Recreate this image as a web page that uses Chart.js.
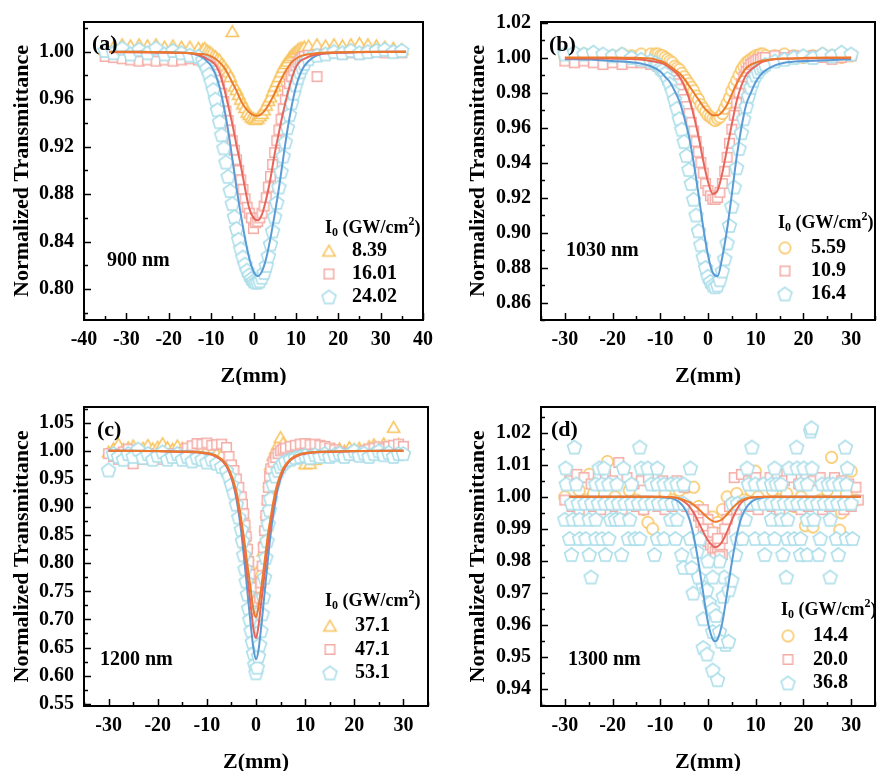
<!DOCTYPE html>
<html>
<head>
<meta charset="utf-8">
<script src="https://cdn.jsdelivr.net/npm/chart.js@4.4.1/dist/chart.umd.min.js"></script>
<style>
  body { margin: 0; background: #fff; overflow: hidden; }
  #wrap { position: relative; width: 882px; height: 771px; }
  canvas { position: absolute; }
</style>
</head>
<body>
<div id="wrap">
  <canvas id="pa" width="441" height="385" style="left:0;top:0"></canvas>
  <canvas id="pb" width="441" height="385" style="left:441px;top:0"></canvas>
  <canvas id="pc" width="441" height="386" style="left:0;top:385px"></canvas>
  <canvas id="pd" width="441" height="386" style="left:441px;top:385px"></canvas>
</div>
<script>
// ---------- (a) 900 nm ----------
const labelsA = ['8.39', '16.01', '24.02'];
const zA = [-35,-33,-31,-29,-27,-25,-23,-21,-19,-17,-15,-13,
  -12,-11.5,-11,-10.5,-10,-9.5,-9,-8.5,-8,-7.5,-7,-6.5,-6,-5.5,-5,-4.5,-4,-3.5,-3,-2.5,-2,-1.5,-1,-0.5,
  0,0.5,1,1.5,2,2.5,3,3.5,4,4.5,5,5.5,6,6.5,7,7.5,8,8.5,9,9.5,10,10.5,11,11.5,12,
  13,15,17,19,21,23,25,27,29,31,33,35];
const tA1 = [1.002,1.004,1.006,1.005,1.006,1.005,1.006,1.004,1.005,1.004,1.004,1.003,
  1.002,1.003,1.001,1.000,0.999,0.997,0.996,0.994,0.993,0.990,0.988,0.985,0.983,0.979,1.017,0.971,0.968,0.964,0.960,0.956,0.953,0.949,0.947,0.945,
  0.944,0.943,0.944,0.946,0.948,0.951,0.955,0.959,0.962,0.967,0.971,0.975,0.979,0.983,0.987,0.990,0.992,0.995,0.997,0.999,1.000,1.002,1.003,1.003,1.004,
  1.005,1.006,1.005,1.006,1.005,1.006,1.007,1.006,1.005,1.004,1.003,1.002];
const tA2 = [0.996,0.995,0.994,0.993,0.992,0.993,0.992,0.993,0.992,0.993,0.994,0.993,
  0.993,0.992,0.991,0.989,0.987,0.984,0.981,0.976,0.971,0.965,0.958,0.950,0.942,0.934,0.925,0.917,0.909,0.900,0.892,0.884,0.876,0.869,0.864,0.860,
  0.851,0.856,0.857,0.860,0.864,0.870,0.877,0.886,0.895,0.905,0.915,0.925,0.934,0.943,0.952,0.960,0.967,0.973,0.979,0.984,0.988,0.991,0.993,0.995,0.996,
  0.997,0.979,0.998,0.999,0.998,0.999,0.998,0.999,1.000,0.999,1.000,0.999];
const tA3 = [1.001,0.999,1.003,0.998,1.002,0.999,1.003,0.998,1.001,0.999,0.997,0.996,
  0.993,0.990,0.986,0.981,0.975,0.968,0.960,0.951,0.941,0.930,0.919,0.907,0.895,0.883,0.872,0.861,0.851,0.842,0.834,0.827,0.821,0.816,0.812,0.809,
  0.807,0.806,0.806,0.807,0.810,0.814,0.820,0.828,0.838,0.849,0.861,0.873,0.886,0.899,0.912,0.924,0.936,0.947,0.957,0.965,0.972,0.978,0.983,0.987,0.990,
  0.994,0.997,0.998,1.000,0.999,1.001,0.999,1.000,1.001,1.002,1.000,1.001];
const fitZA = [-34,-30,-25,-20,-16,-14,-12,-11,-10,-9,-8,-7,-6,-5,-4,-3,-2,-1,0,1,2,3,4,5,6,7,8,9,10,11,12,14,16,20,25,30,36];
const fitA1 = [1.000,1.000,0.9998,0.9995,0.999,0.9985,0.998,0.9975,0.996,0.994,0.991,0.987,0.981,0.974,0.967,0.959,0.953,0.949,0.9465,0.946,0.948,0.952,0.958,0.965,0.973,0.980,0.986,0.991,0.994,0.996,0.9972,0.9983,0.999,0.9995,0.9998,1.000,1.000];
const fitA2 = [0.9995,0.9995,0.9993,0.999,0.9988,0.998,0.996,0.994,0.992,0.989,0.982,0.970,0.955,0.939,0.921,0.904,0.885,0.868,0.860,0.858,0.863,0.876,0.893,0.914,0.932,0.949,0.964,0.977,0.987,0.992,0.994,0.997,0.998,0.999,0.9995,0.9997,1.000];
const fitA3 = [1.000,1.000,0.9998,0.9995,0.999,0.998,0.995,0.992,0.988,0.981,0.970,0.954,0.934,0.910,0.885,0.863,0.843,0.826,0.815,0.811,0.815,0.826,0.843,0.863,0.885,0.910,0.934,0.954,0.970,0.981,0.988,0.995,0.998,0.9993,0.9997,1.000,1.000];

// ---------- (b) 1030 nm ----------
const labelsB = ['5.59', '10.9', '16.4'];
const zB = [-30,-28,-26,-24,-22,-20,-18,-16,-14,-12,
  -11,-10.5,-10,-9.5,-9,-8.5,-8,-7.5,-7,-6.5,-6,-5.5,-5,-4.5,-4,-3.5,-3,-2.5,-2,-1.5,-1,-0.5,
  0,0.5,1,1.5,2,2.5,3,3.5,4,4.5,5,5.5,6,6.5,7,7.5,8,8.5,9,9.5,10,10.5,11,11.5,12,
  14,16,18,20,22,24,26,28,30];
const tB1 = [1.001,1.000,1.002,1.001,1.000,1.001,1.002,1.001,1.002,1.002,
  1.002,1.002,1.001,1.001,1.000,0.999,0.998,0.997,0.995,0.994,0.993,0.991,0.989,0.987,0.985,0.983,0.981,0.978,0.976,0.973,0.971,0.969,
  0.967,0.966,0.965,0.964,0.965,0.966,0.968,0.971,0.974,0.977,0.981,0.984,0.987,0.990,0.993,0.995,0.997,0.998,0.999,1.000,1.001,1.001,1.002,1.002,1.001,
  1.001,1.002,1.001,1.000,1.001,1.002,1.001,1.000,1.001];
const tB2 = [0.998,0.997,0.998,0.997,0.996,0.997,0.996,0.997,0.997,0.996,
  0.996,0.995,0.995,0.994,0.993,0.992,0.991,0.989,0.987,0.985,0.982,0.979,0.976,0.972,0.968,0.963,0.958,0.952,0.946,0.940,0.934,0.928,
  0.924,0.921,0.919,0.919,0.920,0.923,0.928,0.935,0.943,0.951,0.959,0.967,0.974,0.980,0.985,0.989,0.992,0.994,0.996,0.997,0.998,0.999,0.999,1.000,1.000,
  1.001,1.000,1.001,1.000,1.001,1.000,0.999,1.000,1.001];
const tB3 = [1.002,1.003,1.002,1.003,1.002,1.001,1.002,1.000,0.999,0.998,
  0.997,0.996,0.994,0.993,0.991,0.988,0.985,0.981,0.976,0.971,0.965,0.959,0.952,0.944,0.936,0.928,0.919,0.910,0.901,0.893,0.886,0.880,
  0.875,0.872,0.870,0.869,0.870,0.873,0.878,0.885,0.894,0.904,0.915,0.926,0.937,0.948,0.957,0.965,0.972,0.978,0.983,0.987,0.990,0.992,0.994,0.995,0.996,
  0.998,0.999,1.000,1.001,1.000,1.002,1.001,1.003,1.002];
const fitZB = [-30,-25,-20,-15,-12,-10,-9,-8,-7,-6,-5,-4,-3,-2,-1,0,1,2,3,4,5,6,7,8,9,10,11,12,14,16,20,25,30];
const fitB1 = [1.000,1.000,1.000,0.9998,0.9995,0.998,0.9968,0.995,0.993,0.991,0.988,0.984,0.980,0.976,0.972,0.969,0.967,0.967,0.969,0.973,0.979,0.985,0.990,0.994,0.996,0.997,0.998,0.9985,0.9992,0.9995,0.9998,1.000,1.000];
const fitB2 = [0.9995,0.9995,0.9993,0.999,0.998,0.997,0.996,0.994,0.992,0.989,0.984,0.977,0.967,0.955,0.941,0.929,0.922,0.924,0.934,0.948,0.962,0.975,0.984,0.990,0.993,0.995,0.997,0.998,0.999,0.9993,0.9995,0.9997,0.9998];
const fitB3 = [0.999,0.9988,0.998,0.997,0.995,0.992,0.989,0.986,0.981,0.975,0.966,0.955,0.940,0.922,0.903,0.887,0.877,0.875,0.886,0.902,0.922,0.943,0.960,0.973,0.980,0.986,0.990,0.9925,0.9955,0.997,0.998,0.9985,0.999];

// ---------- (c) 1200 nm ----------
const labelsC = ['37.1', '47.1', '53.1'];
const zC = [-30,-29,-28,-27,-26,-25,-24,-23,-22,-21,-20,-19,-18,-17,-16,-15,-14,-13,-12,-11,-10,-9,-8,-7,-6,
  -5.5,-5,-4.5,-4,-3.5,
  -3,-2.75,-2.5,-2.25,-2,-1.75,-1.5,-1.25,-1,-0.75,-0.5,-0.25,0,0.25,0.5,0.75,1,1.25,1.5,1.75,2,2.25,2.5,2.75,3,
  3.5,4,4.5,5,5.5,
  6,7,8,9,10,11,12,13,14,15,16,17,18,19,20,21,22,23,24,25,26,27,28,29,30];
const tC1 = [0.998,1.004,1.012,1.003,1.006,1.009,1.002,1.005,1.010,1.004,1.007,1.013,1.006,1.003,1.009,1.005,1.002,1.007,1.004,1.001,1.003,0.999,0.996,0.993,0.985,
  0.978,0.968,0.957,0.944,0.925,
  0.905,0.889,0.872,0.853,0.836,0.815,0.798,0.782,0.770,0.758,0.748,0.740,0.736,0.745,0.757,0.771,0.785,0.800,0.822,0.843,0.866,0.890,0.915,0.945,0.975,
  0.992,1.003,1.012,1.024,1.014,
  1.005,1.001,0.998,0.996,0.977,0.978,0.985,0.990,0.995,0.999,1.002,1.004,1.000,1.006,1.003,1.005,1.002,1.008,1.011,1.006,1.013,1.008,1.042,1.012,1.005];
const tC2 = [0.995,0.990,0.985,0.998,1.003,0.977,0.990,0.985,0.995,0.988,0.992,0.985,0.990,0.995,0.988,0.997,1.005,1.009,1.013,1.012,1.014,1.010,1.011,1.012,1.006,
  0.990,0.975,0.965,0.950,0.935,
  0.918,0.905,0.888,0.868,0.848,0.825,0.803,0.780,0.757,0.732,0.710,0.690,0.675,0.690,0.712,0.738,0.765,0.795,0.828,0.858,0.885,0.912,0.935,0.955,0.968,
  0.980,0.988,0.995,1.000,1.003,
  1.005,1.008,1.010,1.012,1.013,1.011,1.012,1.010,1.008,1.005,1.002,0.998,0.995,0.992,0.995,0.998,1.000,1.003,1.005,1.007,1.004,1.008,1.010,1.012,1.008];
const tC3 = [0.966,0.995,0.990,0.985,0.995,0.990,1.003,0.988,0.995,0.985,0.992,0.998,0.985,0.990,0.995,0.985,0.990,0.982,0.988,0.985,0.980,0.985,0.978,0.972,0.965,
  0.955,0.940,0.925,0.905,0.882,
  0.860,0.840,0.815,0.790,0.768,0.745,0.720,0.700,0.680,0.660,0.640,0.620,0.605,0.615,0.635,0.655,0.680,0.710,0.740,0.775,0.810,0.840,0.870,0.895,0.915,
  0.940,0.955,0.965,0.972,0.978,
  0.982,0.985,0.988,0.990,0.992,0.988,0.993,0.990,0.995,0.990,0.993,0.996,0.990,0.995,1.000,0.992,0.996,0.990,0.995,1.000,0.993,0.997,0.990,0.995,0.995];
const fitZC = [-30,-25,-20,-15,-12,-10,-9,-8,-7,-6,-5.5,-5,-4.5,-4,-3.5,-3,-2.5,-2,-1.5,-1,-0.5,0,0.5,1,1.5,2,2.5,3,3.5,4,4.5,5,5.5,6,7,8,9,10,12,15,20,25,30];
const fitC1 = [1.000,1.000,0.9995,0.999,0.998,0.996,0.994,0.991,0.985,0.975,0.967,0.957,0.944,0.928,0.905,0.878,0.848,0.815,0.781,0.748,0.716,0.704,0.722,0.752,0.786,0.822,0.856,0.882,0.908,0.930,0.946,0.958,0.968,0.975,0.985,0.991,0.994,0.996,0.998,0.999,0.9995,1.000,1.000];
const fitC2 = [1.000,0.9998,0.9993,0.998,0.997,0.995,0.993,0.989,0.983,0.972,0.963,0.952,0.938,0.920,0.896,0.866,0.832,0.795,0.757,0.719,0.682,0.667,0.688,0.725,0.763,0.801,0.838,0.870,0.899,0.922,0.940,0.953,0.964,0.972,0.983,0.989,0.993,0.995,0.997,0.998,0.9993,0.9998,1.000];
const fitC3 = [1.000,1.000,0.9995,0.999,0.998,0.996,0.994,0.990,0.984,0.973,0.964,0.952,0.936,0.915,0.888,0.855,0.815,0.772,0.727,0.684,0.647,0.629,0.645,0.682,0.725,0.770,0.813,0.853,0.886,0.913,0.935,0.951,0.963,0.972,0.984,0.990,0.994,0.996,0.998,0.999,0.9995,1.000,1.000];

// ---------- (d) 1300 nm ----------
const labelsD = ['14.4', '20.0', '36.8'];
const zD1 = [-30,-28.5,-27,-25.5,-24.9,-24,-22.5,-21.1,-19.5,-18,-16.5,-15,-13.5,-12.6,-11.6,-10.5,-9,-7.5,-6,-4.5,
  -3,-2,-1,0,1,2,3,4,5,6,7.5,9,9.9,10.5,12,13.5,15,16.5,18,19.5,20.4,22,23.5,25,25.9,27.6,28,29,30,31];
const tD1 = [1.000,0.998,1.002,0.999,1.007,1.001,0.997,1.011,1.000,0.998,1.002,0.999,0.996,0.992,0.990,0.998,1.001,0.999,1.002,1.003,
  1.003,0.997,0.994,0.9937,0.9937,0.992,0.996,1.000,0.998,1.001,0.999,1.002,1.008,1.000,0.998,1.002,0.999,1.001,0.997,1.000,0.991,0.9906,0.999,1.002,1.0123,0.9896,0.995,1.001,1.008,0.999];
const zD2 = [-29,-27.5,-26,-24.5,-23,-21.5,-20,-18.7,-17,-15.5,-14,-12.5,-11,-9.5,-8,-6.5,-5,
  5.5,7,8.5,10,11.5,13,14.5,16,17.5,19,20.5,22,23.5,25,26.5,28,29.5,31,
  -30,-28.5,-27,-25.5,-24,-22.5,-21,-19.5,-18,-16.5,-15,-13.5,-12,-10.5,-9,-7.5,-6,-4.5,-3,
  4.5,6,7.5,9,10.5,12,13.5,15,16.5,18,19.5,21,22.5,24,25.5,27,28.5,30,31.5,
  -2,-1.5,-1,-0.5,0,0.5,1,1.5,2,2.5,3,3.5,4,-1,0,1,2,3,1.5,2.5];
const tD2 = [1.005,1.007,1.006,1.004,1.006,1.007,1.005,1.0107,1.006,1.004,1.005,1.006,1.004,1.005,1.004,1.005,1.003,
  1.006,1.007,1.005,1.006,1.004,1.006,1.007,1.005,1.006,1.004,1.007,1.005,1.006,1.004,1.006,1.005,1.004,1.003,
  0.999,0.997,0.996,0.998,0.997,0.996,0.998,0.997,0.996,0.998,0.997,0.996,0.998,0.997,0.996,0.997,0.998,0.997,0.996,
  0.997,0.996,0.998,0.997,0.996,0.998,0.997,0.996,0.998,0.997,0.996,0.997,0.998,0.996,0.997,0.998,0.996,0.997,0.999,
  0.994,0.992,0.990,0.988,0.986,0.985,0.984,0.983,0.984,0.985,0.987,0.990,0.993,0.996,0.993,0.989,0.987,0.982,0.981,0.9815];
// 36.8: the points sit on a few transmittance levels, listed level by level
const tD3levels = [1.0155, 1.009, 1.004, 0.998, 0.993, 0.987, 0.982, 0.975];
const zD3levels = [
  [-28,-14.3,9.2,18.6,28.8],
  [-29.8,-22.8,-21.8,-17.7,-14.0,-12.6,-10.6,-3.7,8.2,14.0,17.0,18.7,20.1,21.8,29.2],
  [-29.7,-27.6,-23.5,-22.2,-20.8,-19.1,-16.0,-11.9,-10.6,-9.2,-7.8,-6.5,-5.1,8.5,9.9,11.6,13.3,14.3,15.3,19.4,20.8,23.9,25.2,26.2,27.6,29.0],
  [-28.6,-27.2,-25.8,-24.4,-23,-21.6,-20.2,-18.8,-17.4,-16,-14.6,-13.2,-11.8,-10.4,-9,-7.6,-6.2,-5.1,
    5.1,6.2,7.6,9,10.4,11.8,13.2,14.6,16,17.4,18.8,20.2,21.6,23,24.4,25.8,27.2,28.6,30],
  [-30,-28.3,-26.9,-24.9,-23.5,-20.4,-19.4,-18.4,-16.4,-7.8,-6.5,7.8,13.3,15.3,16.7,20.8,22.2,25.6],
  [-29,-26.9,-25.6,-23.5,-22.2,-20.8,-16.7,-15.3,-14.3,-10.6,-9.2,-6.8,-3.7,-1.7,6.1,7.2,9.9,11.9,14.0,16.7,18.1,19.4,23.5,26.9,29.0,30.3],
  [-28.6,-24.9,-21.5,-18.1,-11.2,-5.5,5.8,11.9,15.7,19.4,20.8,23.2,27.3],
  [-24.5,3.4,16.4,25.6]
];
const zD3extra = [21.5,21.7,-5.1,-3.4,-3.1,-1.0,-0.3,0.3,1.0,1.7,-1.0,-1.0,-0.2,1.0,2.0,1.0,2.4,3.7,2.7,4.3,3.2,4.4,5.0,2.4,1.0,-2.3,-2.0,0];
const tD3extra = [1.0205,1.0215,0.978,0.978,0.970,0.972,0.971,0.967,0.965,0.963,0.962,0.953,0.951,0.946,0.943,0.958,0.958,0.954,0.955,0.955,0.969,0.971,0.974,0.980,0.975,0.983,0.975,0.980];
const fitZD = [-29,-20,-12,-10,-8,-7,-6,-5,-4,-3,-2,-1,0,1,1.5,2,3,4,5,6,7,8,9,10,12,15,20,25,32];
const fitD1 = [1.000,1.000,1.000,1.000,0.9999,0.9998,0.9995,0.999,0.9984,0.9975,0.9962,0.9948,0.9934,0.9924,0.9922,0.9923,0.993,0.9945,0.9963,0.9978,0.9989,0.9995,0.9998,0.9999,1.000,1.000,1.000,1.000,1.000];
const fitD2 = [1.000,1.000,1.000,1.000,0.9999,0.9998,0.9994,0.9985,0.9972,0.995,0.9922,0.9891,0.9864,0.9847,0.9843,0.9845,0.9861,0.9891,0.9927,0.996,0.9982,0.9993,0.9998,0.9999,1.000,1.000,1.000,1.000,1.000];
const fitD3 = [1.000,1.000,1.000,0.9999,0.9996,0.9992,0.9983,0.9966,0.9935,0.9878,0.9796,0.970,0.9608,0.9556,0.955,0.9556,0.9608,0.970,0.9796,0.9878,0.9935,0.9966,0.9983,0.9992,0.9999,1.000,1.000,1.000,1.000];

// ---------- styles ----------
const serif = '"Liberation Serif", "Times New Roman", serif';
const colMk = ['#F8C35C', '#F4ACA6', '#A8DDE9'];
const colLn = ['#EC7A2C', '#E8655C', '#5B9BD5'];

Chart.defaults.font.family = serif;
Chart.defaults.font.weight = 'bold';
Chart.defaults.color = '#000';

function marker(shape, color) {
  const c = document.createElement('canvas');
  c.width = 17; c.height = 17;
  const g = c.getContext('2d');
  g.translate(8.5, 8.5);
  g.beginPath();
  if (shape === 'circle') {
    g.arc(0, 0, 5.7, 0, Math.PI * 2);
  } else if (shape === 'rect') {
    g.rect(-4.8, -4.8, 9.6, 9.6);
  } else {
    const n = shape === 'triangle' ? 3 : 5;
    const r = shape === 'triangle' ? 7.2 : 7.3;
    const dy = shape === 'triangle' ? 1.5 : 0.6;
    for (let k = 0; k < n; k++) {
      const t = -Math.PI / 2 + k * 2 * Math.PI / n;
      g.lineTo(r * Math.cos(t), r * Math.sin(t) + dy);
    }
    g.closePath();
  }
  g.fillStyle = '#fff';
  g.fill();
  g.lineWidth = 1.5;
  g.strokeStyle = color;
  g.stroke();
  return c;
}

function pts(zs, ts) {
  return zs.map((z, i) => ({ x: z, y: ts[i] }));
}

function fitSet(zs, ts, color) {
  return { data: pts(zs, ts), showLine: true, borderColor: color, borderWidth: 2,
           pointRadius: 0, cubicInterpolationMode: 'monotone', order: 0 };
}

function dotSet(label, data, mk, order) {
  return { label, data, pointStyle: mk, pointRadius: 6, showLine: false, order };
}

// tick values at whole multiples of the step inside [min, max]
function stepTicks(min, max, step) {
  const out = [];
  for (let i = Math.ceil(min / step - 1e-6); i * step <= max + 1e-9; i++) {
    out.push({ value: Math.round(i * step * 1e6) / 1e6 });
  }
  return out;
}

function eachTick(min, max, step, minor, cb) {
  const ratio = Math.round(step / minor);
  for (let i = Math.ceil(min / minor - 1e-6); i * minor <= max + 1e-9; i++) {
    cb(i * minor, ((i % ratio) + ratio) % ratio === 0);
  }
}

const panelDecor = {
  id: 'panelDecor',
  afterDraw(chart, args, o) {
    const { ctx, chartArea: a } = chart;
    const xs = chart.scales.x, ys = chart.scales.y;
    ctx.save();
    ctx.strokeStyle = '#000';
    ctx.lineWidth = 1.5;
    ctx.beginPath();
    eachTick(xs.min, xs.max, o.xStep, o.xStep / 2, (v, major) => {
      const p = Math.round(xs.getPixelForValue(v)) + 0.5;
      ctx.moveTo(p, a.bottom);
      ctx.lineTo(p, a.bottom - (major ? 7 : 4));
    });
    eachTick(ys.min, ys.max, o.yStep, o.yStep / 2, (v, major) => {
      const p = Math.round(ys.getPixelForValue(v)) + 0.5;
      ctx.moveTo(a.left, p);
      ctx.lineTo(a.left + (major ? 7 : 4), p);
    });
    ctx.stroke();
    ctx.lineWidth = 2;
    ctx.strokeRect(a.left, a.top, a.right - a.left, a.bottom - a.top);

    ctx.fillStyle = '#000';
    ctx.textBaseline = 'middle';
    ctx.textAlign = 'left';
    ctx.font = 'bold 22px ' + serif;
    ctx.fillText(o.tag, a.left + o.tagAt[0], a.top + o.tagAt[1]);
    ctx.font = 'bold 20px ' + serif;
    ctx.fillText(o.wl, a.left + o.wlAt[0], a.top + o.wlAt[1]);

    // legend: I0 (GW/cm2) + three entries
    const [tx, ty, mx, lx, ry, gap] = o.leg;
    let cx = a.left + tx;
    const cy = a.top + ty;
    const big = 'bold 18px ' + serif, small = 'bold 12px ' + serif;
    const parts = [['I', big, 0], ['0', small, 5], [' (GW/cm', big, 0], ['2', small, -6], [')', big, 0]];
    parts.forEach(([s, f, dy]) => {
      ctx.font = f;
      ctx.fillText(s, cx, cy + dy);
      cx += ctx.measureText(s).width;
    });
    ctx.font = 'bold 20px ' + serif;
    chart.data.datasets.filter(d => !d.showLine).forEach((d, i) => {
      const y = a.top + ry + i * gap;
      ctx.drawImage(d.pointStyle, a.left + mx - 8.5, y - 8.5);
      ctx.fillText(d.label, a.left + lx, y);
    });
    ctx.restore();
  }
};

function makePanel(id, p) {
  const mk = p.markers;
  const datasets = [
    fitSet(p.fitZ, p.fits[0], colLn[0]),
    fitSet(p.fitZ, p.fits[1], colLn[1]),
    fitSet(p.fitZ, p.fits[2], colLn[2]),
    dotSet(p.labels[0], p.dots[0], marker(mk[0], colMk[0]), 3),
    dotSet(p.labels[1], p.dots[1], marker(mk[1], colMk[1]), 2),
    dotSet(p.labels[2], p.dots[2], marker(mk[2], colMk[2]), 1)
  ];
  return new Chart(document.getElementById(id), {
    type: 'scatter',
    data: { datasets },
    plugins: [panelDecor],
    options: {
      responsive: false,
      animation: false,
      events: [],
      layout: { padding: { top: p.box.top, right: p.box.right, left: 0, bottom: 0 } },
      plugins: {
        legend: { display: false },
        tooltip: { enabled: false },
        panelDecor: { tag: p.tag, wl: p.wl, tagAt: p.tagAt, wlAt: p.wlAt, leg: p.leg,
                      xStep: 10, yStep: p.yStep }
      },
      scales: {
        x: {
          type: 'linear', min: p.x[0], max: p.x[1],
          afterFit: s => { s.height = p.box.bottom; },
          afterBuildTicks: s => { s.ticks = stepTicks(s.min, s.max, 10); },
          grid: { display: false, drawTicks: false },
          border: { display: false },
          ticks: { autoSkip: false, maxRotation: 0, padding: 8,
                   font: { size: 20, weight: 'bold' }, callback: v => String(v) },
          title: { display: true, text: 'Z(mm)', padding: 0,
                   font: { size: 22, weight: 'bold', lineHeight: 0.8 } }
        },
        y: {
          type: 'linear', min: p.y[0], max: p.y[1],
          afterFit: s => { s.width = p.box.left; },
          afterBuildTicks: s => { s.ticks = stepTicks(s.min, s.max, p.yStep); },
          grid: { display: false, drawTicks: false },
          border: { display: false },
          ticks: { autoSkip: false, padding: p.yTickPad,
                   font: { size: 20, weight: 'bold' }, callback: v => v.toFixed(2) },
          title: { display: true, text: 'Normalized Transmittance', padding: { top: p.yTitlePad, bottom: 0 },
                   font: { size: 22, weight: 'bold' } }
        }
      }
    }
  });
}

const dotsD3 = zD3levels.flatMap((zs, r) => zs.map(z => ({ x: z, y: tD3levels[r] })))
  .concat(pts(zD3extra, tD3extra));

makePanel('pa', {
  tag: '(a)', wl: '900 nm', labels: labelsA, markers: ['triangle', 'rect', 'pentagon'],
  dots: [pts(zA, tA1), pts(zA, tA2), pts(zA, tA3)],
  fitZ: fitZA, fits: [fitA1, fitA2, fitA3],
  x: [-40, 40], y: [0.774, 1.025], yStep: 0.04,
  box: { left: 84, top: 20, right: 13, bottom: 65 }, yTitlePad: 9, yTickPad: 10,
  tagAt: [8, 22], wlAt: [23, 239], leg: [241, 206, 245, 268, 229, 23]
});
makePanel('pb', {
  tag: '(b)', wl: '1030 nm', labels: labelsB, markers: ['circle', 'rect', 'pentagon'],
  dots: [pts(zB, tB1), pts(zB, tB2), pts(zB, tB3)],
  fitZ: fitZB, fits: [fitB1, fitB2, fitB3],
  x: [-35, 35], y: [0.85, 1.0203], yStep: 0.02,
  box: { left: 100, top: 19, right: 0, bottom: 65 }, yTitlePad: 24, yTickPad: 10,
  tagAt: [8, 23], wlAt: [25, 229], leg: [237, 201, 244, 270, 226, 23]
});
makePanel('pc', {
  tag: '(c)', wl: '1200 nm', labels: labelsC, markers: ['triangle', 'rect', 'pentagon'],
  dots: [pts(zC, tC1), pts(zC, tC2), pts(zC, tC3)],
  fitZ: fitZC, fits: [fitC1, fitC2, fitC3],
  x: [-35, 35], y: [0.546, 1.078], yStep: 0.05,
  box: { left: 84, top: 19, right: 13, bottom: 65 }, yTitlePad: 9, yTickPad: 10,
  tagAt: [13, 23], wlAt: [16, 253], leg: [241, 194, 246, 271, 219, 23.5]
});
makePanel('pd', {
  tag: '(d)', wl: '1300 nm', labels: labelsD, markers: ['circle', 'rect', 'pentagon'],
  dots: [pts(zD1, tD1), pts(zD2, tD2), dotsD3],
  fitZ: fitZD, fits: [fitD1, fitD2, fitD3],
  x: [-35, 35], y: [0.9348, 1.028], yStep: 0.01,
  box: { left: 100, top: 19, right: 0, bottom: 65 }, yTitlePad: 24, yTickPad: 10,
  tagAt: [10, 23], wlAt: [27, 253], leg: [240, 203, 247, 272, 229, 23.5]
});
</script>
</body>
</html>
